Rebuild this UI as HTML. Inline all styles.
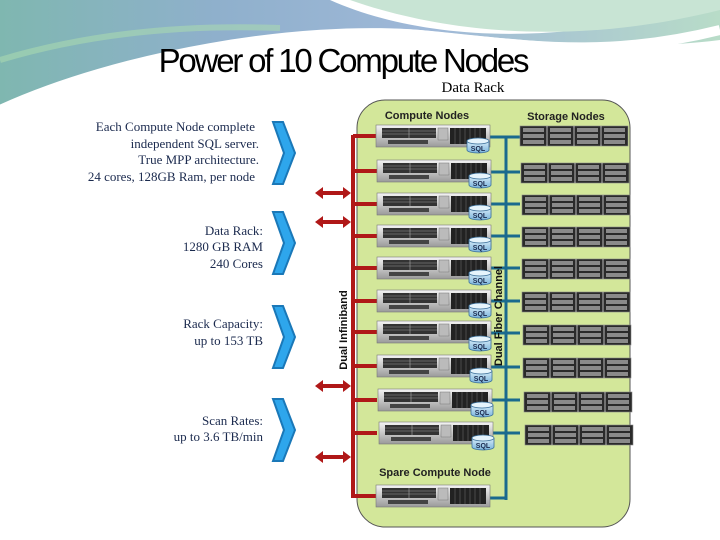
<!DOCTYPE html>
<html><head><style>
body{margin:0;background:#fff;}
svg{display:block;}
.t{font-family:"Liberation Serif",serif;fill:#1b2a4e;font-size:13px;}
</style></head><body>
<svg width="720" height="540" viewBox="0 0 720 540" xmlns="http://www.w3.org/2000/svg">
<defs>
<linearGradient id="sky" x1="0" y1="0" x2="1" y2="0">
<stop offset="0" stop-color="#7fb7b0"/><stop offset="0.3" stop-color="#8fb0cc"/><stop offset="0.6" stop-color="#9fb8d8"/><stop offset="1" stop-color="#b8dcc8"/></linearGradient>
<linearGradient id="srv" x1="0" y1="0" x2="0" y2="1">
<stop offset="0" stop-color="#f4f4f4"/><stop offset="1" stop-color="#9a9a9a"/></linearGradient>
<linearGradient id="cyl" x1="0" y1="0" x2="0" y2="1">
<stop offset="0" stop-color="#d8ecf8"/><stop offset="1" stop-color="#7ab4dc"/></linearGradient>
<g id="server">
<rect x="0" y="0" width="114" height="22" fill="url(#srv)" stroke="#777" stroke-width="0.6"/>
<rect x="6" y="3" width="54" height="10" fill="#333"/>
<line x1="6" y1="6" x2="60" y2="6" stroke="#999" stroke-width="0.6"/>
<line x1="6" y1="9" x2="60" y2="9" stroke="#999" stroke-width="0.6"/>
<line x1="33" y1="3" x2="33" y2="13" stroke="#aaa" stroke-width="0.6"/>
<rect x="12" y="15" width="40" height="4" fill="#444"/>
<rect x="62" y="3" width="10" height="12" fill="#bbb" stroke="#666" stroke-width="0.4"/>
<rect x="74" y="3" width="36" height="16" fill="#222"/>
<g stroke="#666" stroke-width="0.6"><line x1="79" y1="3" x2="79" y2="19"/><line x1="84" y1="3" x2="84" y2="19"/><line x1="89" y1="3" x2="89" y2="19"/><line x1="94" y1="3" x2="94" y2="19"/><line x1="99" y1="3" x2="99" y2="19"/><line x1="104" y1="3" x2="104" y2="19"/></g>
</g>
<g id="sql">
<path d="M0 3 v9 a11 3 0 0 0 22 0 v-9" fill="url(#cyl)" stroke="#3a6f9a" stroke-width="0.8"/>
<ellipse cx="11" cy="3" rx="11" ry="3" fill="#e6f4fc" stroke="#3a6f9a" stroke-width="0.8"/>
<text x="11" y="13" font-family="Liberation Sans,sans-serif" font-size="7" font-weight="bold" fill="#1b2a4e" text-anchor="middle">SQL</text>
</g>
<g id="stor">
<rect x="0" y="0" width="108" height="20" fill="#2a2a2a" stroke="#888" stroke-width="0.6"/>
<g stroke="#ddd" stroke-width="0.8"><line x1="27" y1="0" x2="27" y2="20"/><line x1="54" y1="0" x2="54" y2="20"/><line x1="81" y1="0" x2="81" y2="20"/></g>
<g fill="#8a8a8a"><rect x="3" y="2" width="21" height="4"/><rect x="3" y="8" width="21" height="4"/><rect x="3" y="14" width="21" height="4"/>
<rect x="30" y="2" width="21" height="4"/><rect x="30" y="8" width="21" height="4"/><rect x="30" y="14" width="21" height="4"/>
<rect x="57" y="2" width="21" height="4"/><rect x="57" y="8" width="21" height="4"/><rect x="57" y="14" width="21" height="4"/>
<rect x="84" y="2" width="21" height="4"/><rect x="84" y="8" width="21" height="4"/><rect x="84" y="14" width="21" height="4"/></g>
</g>
<g id="chev"><path d="M0 0 L10 0 L22 31 L10 62 L0 62 L11 31 Z" fill="#2ea6ec" stroke="#1a78b8" stroke-width="2"/></g>
<g id="arr"><path d="M0 0 L8 -6 L8 -2 L28 -2 L28 -6 L36 0 L28 6 L28 2 L8 2 L8 6 Z" fill="#b01818"/></g>
</defs>
<!-- top swoosh -->
<path d="M0 0 H720 V40 C640 50 560 45 420 30 C300 20 120 60 0 110 Z" fill="url(#sky)"/>
<path d="M330 0 C420 40 560 50 720 0 V0 Z" fill="#fff"/>
<path d="M350 0 C450 35 580 45 720 10 V0 Z" fill="#c8e4d4"/>
<path d="M0 110 C120 55 300 25 420 35 C520 44 600 60 720 30" fill="none" stroke="#fff" stroke-width="10"/>
<path d="M0 60 C100 30 200 25 280 28" fill="none" stroke="#a8d8b0" stroke-width="6" opacity="0.6"/>
<text x="343" y="72" font-family="Liberation Sans,sans-serif" font-size="33" letter-spacing="-2.2" text-anchor="middle" fill="#000">Power of 10 Compute Nodes</text>
<text x="473" y="92" font-family="Liberation Serif,serif" font-size="15" text-anchor="middle" fill="#000">Data Rack</text>
<!-- rack -->
<rect x="357" y="100" width="273" height="427" rx="28" fill="#d3e79a" stroke="#555" stroke-width="1"/>
<text x="427" y="119" font-family="Liberation Sans,sans-serif" font-size="11" font-weight="bold" fill="#222" text-anchor="middle">Compute Nodes</text>
<text x="566" y="120" font-family="Liberation Sans,sans-serif" font-size="11" font-weight="bold" fill="#222" text-anchor="middle">Storage Nodes</text>
<text x="435" y="476" font-family="Liberation Sans,sans-serif" font-size="11" font-weight="bold" fill="#222" text-anchor="middle">Spare Compute Node</text>
<!-- buses -->
<g stroke="#1a6a8e" stroke-width="3">
<line x1="506" y1="137" x2="506" y2="500"/>
<line x1="489" y1="137" x2="520" y2="137"/><line x1="489" y1="172" x2="520" y2="172"/><line x1="489" y1="204" x2="520" y2="204"/>
<line x1="489" y1="236" x2="520" y2="236"/><line x1="489" y1="268" x2="520" y2="268"/><line x1="489" y1="301" x2="520" y2="301"/>
<line x1="489" y1="333" x2="520" y2="333"/><line x1="489" y1="367" x2="520" y2="367"/><line x1="489" y1="400" x2="520" y2="400"/>
<line x1="489" y1="433" x2="520" y2="433"/><line x1="489" y1="498" x2="506" y2="498"/>
</g>
<g stroke="#b01818" stroke-width="4">
<line x1="353" y1="135" x2="353" y2="498"/>
<line x1="353" y1="136" x2="377" y2="136"/><line x1="353" y1="171" x2="377" y2="171"/><line x1="353" y1="204" x2="377" y2="204"/>
<line x1="353" y1="236" x2="377" y2="236"/><line x1="353" y1="268" x2="377" y2="268"/><line x1="353" y1="301" x2="377" y2="301"/>
<line x1="353" y1="332" x2="377" y2="332"/><line x1="353" y1="366" x2="377" y2="366"/><line x1="353" y1="400" x2="377" y2="400"/>
<line x1="353" y1="433" x2="377" y2="433"/><line x1="353" y1="496" x2="377" y2="496"/>
</g>
<use href="#arr" x="315" y="193"/><use href="#arr" x="315" y="222"/><use href="#arr" x="315" y="386"/><use href="#arr" x="315" y="457"/>
<!-- servers -->
<use href="#server" x="376" y="125"/><use href="#server" x="377" y="160"/><use href="#server" x="377" y="193"/>
<use href="#server" x="377" y="225"/><use href="#server" x="377" y="257"/><use href="#server" x="377" y="290"/>
<use href="#server" x="377" y="321"/><use href="#server" x="377" y="355"/><use href="#server" x="378" y="389"/>
<use href="#server" x="379" y="422"/><use href="#server" x="376" y="485"/>
<use href="#sql" x="467" y="138"/><use href="#sql" x="469" y="173"/><use href="#sql" x="469" y="205"/>
<use href="#sql" x="469" y="237"/><use href="#sql" x="469" y="270"/><use href="#sql" x="469" y="303"/>
<use href="#sql" x="469" y="336"/><use href="#sql" x="470" y="368"/><use href="#sql" x="471" y="402"/><use href="#sql" x="472" y="435"/>
<!-- storage -->
<use href="#stor" x="520" y="126"/><use href="#stor" x="521" y="163"/><use href="#stor" x="522" y="195"/>
<use href="#stor" x="522" y="227"/><use href="#stor" x="522" y="259"/><use href="#stor" x="522" y="292"/>
<use href="#stor" x="523" y="325"/><use href="#stor" x="523" y="358"/><use href="#stor" x="524" y="392"/><use href="#stor" x="525" y="425"/>
<text transform="translate(347 330) rotate(-90)" font-family="Liberation Sans,sans-serif" font-size="11" font-weight="bold" fill="#111" text-anchor="middle">Dual Infiniband</text>
<text transform="translate(502 316) rotate(-90)" font-family="Liberation Sans,sans-serif" font-size="11" font-weight="bold" fill="#111" text-anchor="middle">Dual Fiber Channel</text>
<!-- chevrons -->
<use href="#chev" x="273" y="122"/><use href="#chev" x="273" y="212"/><use href="#chev" x="273" y="306"/><use href="#chev" x="273" y="399"/>
<!-- left text -->
<g class="t" text-anchor="end">
<text x="255" y="131">Each Compute Node complete</text>
<text x="259" y="148">independent SQL server.</text>
<text x="259" y="164">True MPP architecture.</text>
<text x="255" y="181">24 cores, 128GB Ram, per node</text>
<text x="263" y="235">Data Rack:</text>
<text x="263" y="251">1280 GB RAM</text>
<text x="263" y="268">240 Cores</text>
<text x="263" y="328">Rack Capacity:</text>
<text x="263" y="345">up to 153 TB</text>
<text x="263" y="425">Scan Rates:</text>
<text x="263" y="441">up to 3.6 TB/min</text>
</g>
</svg>
</body></html>
